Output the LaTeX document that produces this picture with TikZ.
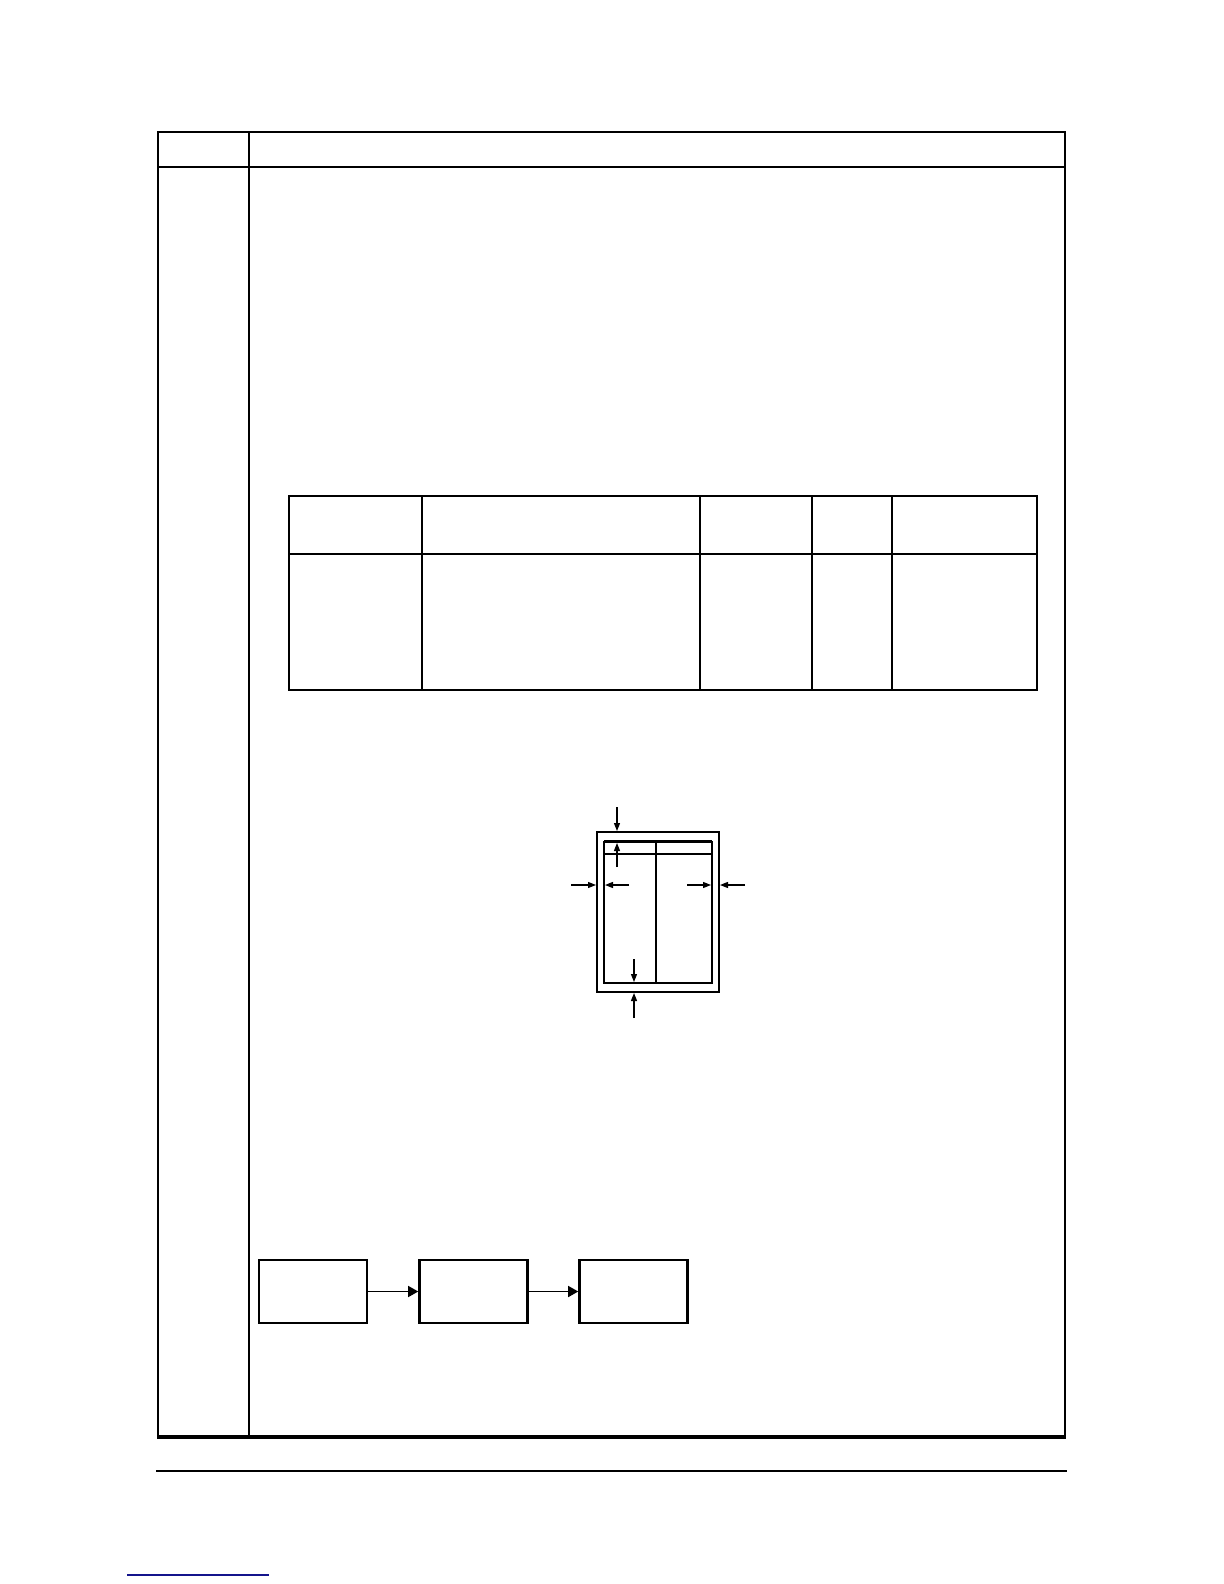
\documentclass[tikz,border=0pt]{standalone}
\usetikzlibrary{arrows.meta}
\definecolor{linkblue}{RGB}{20,20,140}
\begin{document}
\begin{tikzpicture}[x=0.5pt,y=-0.5pt,
  rule/.style={line width=1pt},
  thickrule/.style={line width=1.8pt},
  iconline/.style={line width=0.8pt},
  flowbox/.style={draw,line width=1.3pt,rectangle,inner sep=0pt,minimum width=54pt,minimum height=31.5pt},
  flowarrow/.style={line width=0.7pt,-{Triangle[length=5pt,width=5.5pt]}},
  dimarrow/.style={line width=0.6pt,-{Triangle[length=4pt,width=3pt]}}]
\useasboundingbox (0,0) rectangle (1224,1584);
% outer table
\draw[rule] (158,1437) -- (158,132) -- (1065,132) -- (1065,1437);
\draw[rule] (158,167) -- (1065,167);
\draw[rule] (249,132) -- (249,1437);
\draw[thickrule] (157,1437) -- (1066,1437);
% inner table
\draw[rule] (289,496) rectangle (1037,690);
\draw[rule] (289,554) -- (1037,554);
\foreach \cx in {422,700,812,892} \draw[rule] (\cx,496) -- (\cx,690);
% page icon
\draw[iconline] (597,832) rectangle (719,992);
\draw[iconline] (604,842) rectangle (712,983);
\draw[line width=1.5pt] (604,841) -- (712,841);
\draw[iconline] (604,854) -- (712,854);
\draw[iconline] (656,841) -- (656,983);
\coordinate (t1) at (617,807); \coordinate (t2) at (617,831);
\coordinate (t3) at (617,867); \coordinate (t4) at (617,843);
\coordinate (l1) at (571,885); \coordinate (l2) at (596,885);
\coordinate (l3) at (629,885); \coordinate (l4) at (605,885);
\coordinate (r1) at (687,885); \coordinate (r2) at (711,885);
\coordinate (r3) at (745,885); \coordinate (r4) at (720,885);
\coordinate (b1) at (634,959); \coordinate (b2) at (634,982);
\coordinate (b3) at (634,1018); \coordinate (b4) at (634,993);
\draw[dimarrow] (t1) -- (t2);
\draw[dimarrow] (t3) -- (t4);
\draw[dimarrow] (l1) -- (l2);
\draw[dimarrow] (l3) -- (l4);
\draw[dimarrow] (r1) -- (r2);
\draw[dimarrow] (r3) -- (r4);
\draw[dimarrow] (b1) -- (b2);
\draw[dimarrow] (b3) -- (b4);
% flow boxes
\node[flowbox] (f1) at (313,1291.5) {};
\node[flowbox] (f2) at (473.5,1291.5) {};
\node[flowbox] (f3) at (633.5,1291.5) {};
\draw[flowarrow] (f1) -- (f2);
\draw[flowarrow] (f2) -- (f3);
% footer
\draw[line width=0.9pt] (156,1471) -- (1067,1471);
\draw[linkblue,line width=0.9pt] (127,1575) -- (269,1575);
\end{tikzpicture}
\end{document}
